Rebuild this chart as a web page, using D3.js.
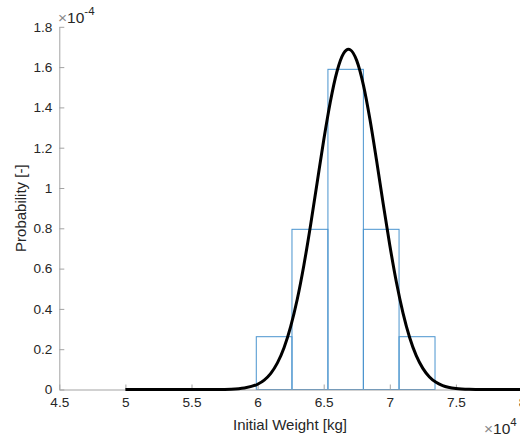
<!DOCTYPE html>
<html>
<head>
<meta charset="utf-8">
<script src="https://cdn.jsdelivr.net/npm/d3@7"></script>
<style>
  body { margin: 0; background: #fff; }
  svg { display: block; font-family: "Liberation Sans", Arial, sans-serif; }
</style>
</head>
<body>
<svg id="chart" width="520" height="439"></svg>
<script>
// histogram bin edges (kg) and normalized heights (x1e-4)
const binEdges = [59900, 62600, 65320, 68000, 70700, 73420];
const binHeights = [0.262, 0.795, 1.589, 0.795, 0.262];

// fitted normal pdf (kg, x1e-4)
const curveX = [50000, 57000, 58000, 59000, 60000, 60500, 61000, 61500, 62000, 62500, 63000,
    63500, 64000, 64500, 65000, 65500, 66000, 66500, 66880, 67000, 67500, 68000, 68500,
    69000, 69500, 70000, 70500, 71000, 71500, 72000, 72500, 73000, 73500, 74000, 75000,
    76000, 77000, 80000];
const curveY = [0, 0.0003, 0.0016, 0.0071, 0.0261, 0.0469, 0.0804, 0.132, 0.207, 0.312, 0.448,
    0.617, 0.813, 1.025, 1.237, 1.427, 1.577, 1.667, 1.688, 1.686, 1.632, 1.512, 1.340,
    1.136, 0.922, 0.716, 0.532, 0.379, 0.258, 0.168, 0.105, 0.0624, 0.0356, 0.0194, 0.0051,
    0.0011, 0.0002, 0];

const xTicks = [45000, 50000, 55000, 60000, 65000, 70000, 75000, 80000];
const yTicks = [0, 0.2, 0.4, 0.6, 0.8, 1, 1.2, 1.4, 1.6, 1.8];

const svg = d3.select('#chart');

// plot box in pixels (right end runs past the window, like the original)
const box = { left: 59.3, right: 522, top: 26.8, bottom: 389.5 };

const xScale = d3.scaleLinear().domain([45000, 80000]).range([box.left, box.right]);
const yScale = d3.scaleLinear().domain([0, 1.8]).range([box.bottom, box.top]);

const g = svg.append('g');

// histogram bars, white face with blue edge
const bins = binHeights.map((h, i) => ({ x0: binEdges[i], x1: binEdges[i + 1], h }));
g.selectAll('.bar')
    .data(bins)
    .enter().append('rect')
    .attr('class', 'bar')
    .attr('x', d => xScale(d.x0))
    .attr('y', d => yScale(d.h))
    .attr('width', d => xScale(d.x1) - xScale(d.x0))
    .attr('height', d => yScale(0) - yScale(d.h))
    .attr('fill', 'none')
    .attr('stroke', '#4a94cf')
    .attr('stroke-width', 1);

// axes: ticks point inward, no box
const xAxis = g.append('g')
    .attr('transform', `translate(0,${box.bottom})`)
    .call(d3.axisBottom(xScale).tickValues(xTicks).tickSize(-5).tickSizeOuter(0).tickPadding(8)
        .tickFormat(d => d3.format('~g')(d / 10000)));

const yAxis = g.append('g')
    .attr('transform', `translate(${box.left},0)`)
    .call(d3.axisLeft(yScale).tickValues(yTicks).tickSize(-5).tickSizeOuter(0).tickPadding(7)
        .tickFormat(d3.format('~g')));

[xAxis, yAxis].forEach(a => {
    a.select('.domain').attr('stroke', '#a3a3a3');
    a.selectAll('.tick line').attr('stroke', '#a3a3a3');
    a.selectAll('.tick text').attr('fill', '#262626').style('font-size', '13.6px')
        .style('font-family', '"Liberation Sans", Arial, sans-serif');
});

// fitted normal curve
const pts = curveX.map((x, i) => [x, curveY[i]]);
g.append('path')
    .datum(pts)
    .attr('fill', 'none')
    .attr('stroke', '#000')
    .attr('stroke-width', 3)
    .attr('stroke-linejoin', 'round')
    .attr('d', d3.line()
        .x(d => xScale(d[0]))
        .y(d => yScale(d[1]))
        .curve(d3.curveMonotoneX));

// axis labels
svg.append('text')
    .attr('x', 290)
    .attr('y', 430)
    .attr('text-anchor', 'middle')
    .attr('fill', '#262626')
    .style('font-size', '15px')
    .text('Initial Weight [kg]');

svg.append('text')
    .attr('transform', `translate(26,${(box.top + box.bottom) / 2}) rotate(-90)`)
    .attr('text-anchor', 'middle')
    .attr('fill', '#262626')
    .style('font-size', '15px')
    .text('Probability [-]');

// exponent markers
const yExp = svg.append('text')
    .attr('x', 58)
    .attr('y', 23)
    .attr('fill', '#262626')
    .style('font-size', '15.5px');
yExp.append('tspan').attr('fill', '#8a8a8a').text('\u00d7');
yExp.append('tspan').text('10');
yExp.append('tspan').attr('dy', -8).style('font-size', '11.5px').text('-4');

const xExp = svg.append('text')
    .attr('x', 484)
    .attr('y', 434)
    .attr('fill', '#262626')
    .style('font-size', '15.5px');
xExp.append('tspan').attr('fill', '#8a8a8a').text('\u00d7');
xExp.append('tspan').text('10');
xExp.append('tspan').attr('dy', -8).style('font-size', '11.5px').text('4');
</script>
</body>
</html>
